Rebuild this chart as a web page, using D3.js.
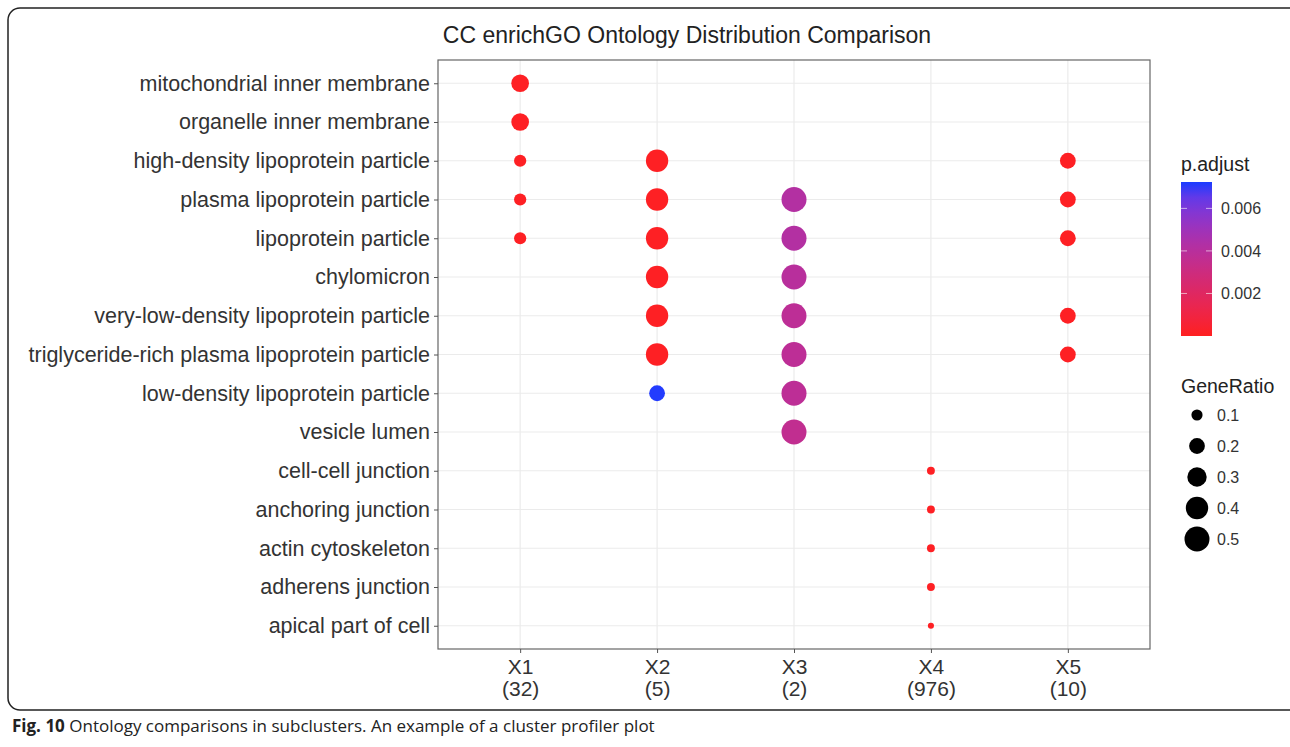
<!DOCTYPE html>
<html><head><meta charset="utf-8">
<script src="https://cdn.jsdelivr.net/npm/d3@7"></script>
<style>body{margin:0;background:#fff}svg text{font-family:"Liberation Sans",Arial,Helvetica,sans-serif}</style>
</head><body><div id="app"></div>
<script>
// data
var terms = ["mitochondrial inner membrane","organelle inner membrane","high-density lipoprotein particle",
  "plasma lipoprotein particle","lipoprotein particle","chylomicron","very-low-density lipoprotein particle",
  "triglyceride-rich plasma lipoprotein particle","low-density lipoprotein particle","vesicle lumen",
  "cell-cell junction","anchoring junction","actin cytoskeleton","adherens junction","apical part of cell"];
var clusters = ["X1","X2","X3","X4","X5"];
var clusterCounts = ["(32)","(5)","(2)","(976)","(10)"];
// [cluster, term index, GeneRatio, p.adjust]
var dots = [
  ["X1",0,0.25,0.0001],["X1",1,0.25,0.0001],["X1",2,0.12,0.0001],["X1",3,0.12,0.0001],["X1",4,0.12,0.0001],
  ["X2",2,0.4,0.0001],["X2",3,0.4,0.0001],["X2",4,0.4,0.0001],["X2",5,0.4,0.0001],["X2",6,0.4,0.0001],["X2",7,0.4,0.0001],["X2",8,0.2,0.0072],
  ["X3",3,0.5,0.0042],["X3",4,0.5,0.0042],["X3",5,0.5,0.0040],["X3",6,0.5,0.0038],["X3",7,0.5,0.0038],["X3",8,0.5,0.0038],["X3",9,0.5,0.0036],
  ["X4",10,0.05,0.0001],["X4",11,0.05,0.0001],["X4",12,0.05,0.0001],["X4",13,0.05,0.0001],["X4",14,0.03,0.0001],
  ["X5",2,0.2,0.0001],["X5",3,0.2,0.0001],["X5",4,0.2,0.0001],["X5",6,0.2,0.0001],["X5",7,0.2,0.0001]
];
var sizeTicks = [0.1,0.2,0.3,0.4,0.5];
var colorTicks = [0.002,0.004,0.006];

var W = 1290, H = 747;
var svg = d3.select("#app").append("svg").attr("width", W).attr("height", H);

// frame + caption
svg.append("rect").attr("x",8).attr("y",8).attr("width",1300).attr("height",702).attr("rx",12)
  .attr("fill","none").attr("stroke","#222").attr("stroke-width",1.5);
var cap = svg.append("text").attr("x",12).attr("y",732).attr("font-size",17).attr("fill","#222")
  .style("font-family","'Open Sans',sans-serif");
cap.append("tspan").attr("font-weight","bold").text("Fig. 10");
cap.append("tspan").text(" Ontology comparisons in subclusters. An example of a cluster profiler plot");

var L = 438, R = 1150, T = 60, B = 649;
var x = d3.scalePoint().domain(clusters).range([L, R]).padding(0.6);
var y = d3.scalePoint().domain(d3.range(terms.length)).range([T, B]).padding(0.6);
var r = d3.scaleSqrt().domain([0, 0.5]).range([0, 12.5]);
var col = d3.scaleLinear().domain([0, 0.00724]).range(["#ff2020", "#1a3cff"]).interpolate(d3.interpolateLab);

// grid
var g = svg.append("g");
g.selectAll(".gx").data(clusters).enter().append("line")
  .attr("x1", d => x(d)).attr("x2", d => x(d)).attr("y1", T).attr("y2", B).attr("stroke","#ebebeb").attr("stroke-width",1.2);
g.selectAll(".gy").data(terms).enter().append("line")
  .attr("y1", (d,i) => y(i)).attr("y2", (d,i) => y(i)).attr("x1", L).attr("x2", R).attr("stroke","#ebebeb").attr("stroke-width",1.2);
g.append("rect").attr("x",L).attr("y",T).attr("width",R-L).attr("height",B-T).attr("fill","none").attr("stroke","#666").attr("stroke-width",1.2);

// axes
var ya = svg.append("g").attr("transform","translate("+L+",0)")
  .call(d3.axisLeft(y).tickSize(4).tickPadding(4).tickFormat(i => terms[i]));
ya.select(".domain").remove();
ya.selectAll("text").attr("font-size",21.5).attr("fill","#333");
ya.selectAll("line").attr("stroke","#555");
var xa = svg.append("g").attr("transform","translate(0,"+B+")")
  .call(d3.axisBottom(x).tickSize(4).tickPadding(6));
xa.select(".domain").remove();
xa.selectAll("line").attr("stroke","#555");
xa.selectAll("text").attr("font-size",21).attr("fill","#333")
  .each(function(d,i){
    var t = d3.select(this); t.text(null);
    t.append("tspan").attr("x",0).attr("dy","0.71em").text(d);
    t.append("tspan").attr("x",0).attr("dy","1.05em").text(clusterCounts[i]);
  });

// dots
svg.append("g").selectAll("circle").data(dots).enter().append("circle")
  .attr("cx", d => x(d[0])).attr("cy", d => y(d[1])).attr("r", d => r(d[2])).attr("fill", d => col(d[3]));

// title
svg.append("text").attr("x",687).attr("y",43).attr("text-anchor","middle").attr("font-size",23)
  .attr("fill","#222").text("CC enrichGO Ontology Distribution Comparison");

// color legend
var cbT = 182, cbB = 336, cbX = 1181, cbW = 31;
svg.append("text").attr("x",1181).attr("y",171).attr("font-size",19.5).attr("fill","#222").text("p.adjust");
var cy = d3.scaleLinear().domain([0, 0.00724]).range([cbB, cbT]);
var grad = svg.append("defs").append("linearGradient").attr("id","cb").attr("x1",0).attr("x2",0).attr("y1",1).attr("y2",0);
d3.range(0, 1.01, 0.1).forEach(function(t){
  grad.append("stop").attr("offset", t).attr("stop-color", col(t*0.00724));
});
svg.append("rect").attr("x",cbX).attr("y",cbT).attr("width",cbW).attr("height",cbB-cbT).attr("fill","url(#cb)");
colorTicks.forEach(function(v){
  svg.append("line").attr("x1",cbX).attr("x2",cbX+6).attr("y1",cy(v)).attr("y2",cy(v)).attr("stroke","#fff").attr("opacity",0.6);
  svg.append("line").attr("x1",cbX+cbW-6).attr("x2",cbX+cbW).attr("y1",cy(v)).attr("y2",cy(v)).attr("stroke","#fff").attr("opacity",0.6);
  svg.append("text").attr("x",cbX+40).attr("y",cy(v)+6).attr("font-size",16).attr("fill","#333").text(v.toFixed(3));
});

// size legend
svg.append("text").attr("x",1181).attr("y",393).attr("font-size",19.5).attr("fill","#222").text("GeneRatio");
var sy = d3.scalePoint().domain(sizeTicks).range([415, 539]);
sizeTicks.forEach(function(v){
  svg.append("circle").attr("cx",1197).attr("cy",sy(v)).attr("r",r(v)).attr("fill","#000");
  svg.append("text").attr("x",1217).attr("y",sy(v)+6).attr("font-size",16).attr("fill","#333").text(v);
});
</script></body></html>
